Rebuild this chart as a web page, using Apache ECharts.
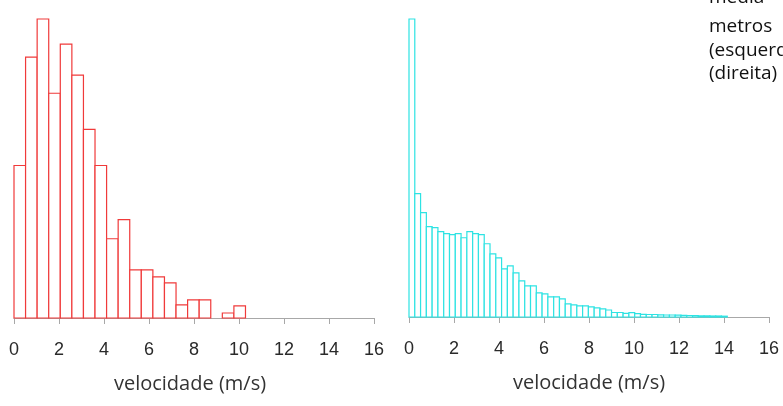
<!DOCTYPE html>
<html>
<head>
<meta charset="utf-8">
<script src="https://cdn.jsdelivr.net/npm/echarts@6/dist/echarts.min.js"></script>
<style>
html,body{margin:0;padding:0;background:#fff;}
#chart{width:783px;height:406px;}
</style>
</head>
<body>
<div id="chart"></div>
<script>
// ---- data ----
const xTicks = [0, 2, 4, 6, 8, 10, 12, 14, 16];
const axisTitle = 'velocidade (m/s)';
// left histogram (bins of 1 knot = 0.5144 m/s)
const leftBinWidth = 0.5144;
const leftCounts = [152, 260, 298, 224, 273, 242, 188, 152, 79, 98, 48, 48, 41, 35, 13, 18, 18, 0, 5, 12];
// right histogram (bins of half a knot)
const rightBinWidth = 0.2572;
const rightCounts = [297, 123, 104, 90, 89, 85, 83, 82, 83, 79, 85, 83, 82, 73, 63, 59, 48, 51, 44, 36,
  31, 31, 24, 23, 20, 20, 18, 13, 12, 11, 11, 10, 9, 8, 7, 4.5, 4.5, 3.7, 4.3, 3.3,
  2.7, 2.5, 2.5, 2.2, 2, 2, 1.8, 1.6, 1.5, 1.3, 1.2, 1.2, 1.0, 1.0, 0.8];
const sideText = ['media', 'metros', '(esquerda)', '(direita)'];

function toBins(counts, w) {
  return counts.map((c, i) => [i * w, (i + 1) * w, c]);
}

function histRender(color) {
  return function (params, api) {
    const v = api.value(2);
    if (!v) return null;
    const p0 = api.coord([api.value(0), 0]);
    const p1 = api.coord([api.value(1), v]);
    return {
      type: 'rect',
      shape: { x: p0[0], y: p1[1], width: p1[0] - p0[0], height: p0[1] - p1[1] },
      style: { fill: '#ffffff', stroke: color, lineWidth: 1.2 }
    };
  };
}

const xAxisCommon = {
  type: 'value', min: 0, max: 16, interval: 2,
  splitLine: { show: false },
  axisLine: { lineStyle: { color: '#a8a8a8', width: 1 } },
  axisTick: { length: 6, lineStyle: { color: '#a8a8a8' } },
  axisLabel: { margin: 23, color: '#2a2a2a', fontSize: 18, fontFamily: 'Liberation Sans',
    formatter: v => xTicks.includes(v) ? String(v) : '' },
  name: axisTitle, nameLocation: 'middle', nameGap: 56,
  nameTextStyle: { color: '#333', fontSize: 20, fontFamily: 'Open Sans' }
};

const chart = echarts.init(document.getElementById('chart'), null, { renderer: 'canvas' });
chart.setOption({
  animation: false,
  backgroundColor: '#fff',
  grid: [
    { left: 14, top: 19, width: 360, height: 299 },
    { left: 409, top: 19, width: 360, height: 298 }
  ],
  xAxis: [
    Object.assign({ gridIndex: 0 }, xAxisCommon, { nameTextStyle: Object.assign({}, xAxisCommon.nameTextStyle, { padding: [0, 8, 0, 0] }) }),
    Object.assign({ gridIndex: 1 }, xAxisCommon)
  ],
  yAxis: [
    { gridIndex: 0, type: 'value', min: 0, max: 298, show: false },
    { gridIndex: 1, type: 'value', min: 0, max: 297, show: false }
  ],
  series: [
    { type: 'custom', xAxisIndex: 0, yAxisIndex: 0, renderItem: histRender('#f03a3a'),
      data: toBins(leftCounts, leftBinWidth), encode: { x: [0, 1], y: 2 }, clip: false },
    { type: 'custom', xAxisIndex: 1, yAxisIndex: 1, renderItem: histRender('#2ee3e3'),
      data: toBins(rightCounts, rightBinWidth), encode: { x: [0, 1], y: 2 }, clip: false }
  ],
  graphic: sideText.map((t, i) => ({
    type: 'text', left: 709, top: [-12, 17, 41, 64][i],
    style: { text: t, fill: '#111', font: '19px "Open Sans"' }
  }))
});
</script>
</body>
</html>
